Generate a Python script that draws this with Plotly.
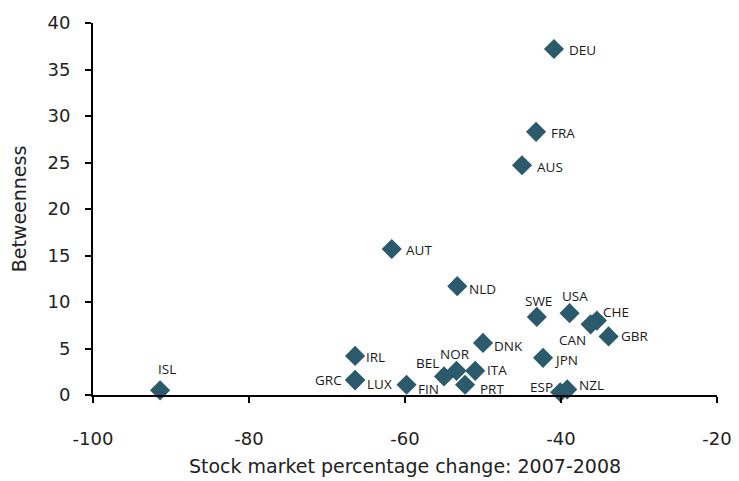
import plotly.graph_objects as go

countries = ["DEU", "FRA", "AUS", "AUT", "NLD", "SWE", "USA", "CHE", "CAN", "GBR",
             "DNK", "JPN", "IRL", "GRC", "LUX", "FIN", "BEL", "NOR", "ITA", "PRT",
             "ESP", "NZL", "ISL"]
stock_change = [-40.9, -43.2, -45.0, -61.7, -53.3, -43.1, -38.9, -35.4, -36.2, -33.9,
                -50.0, -42.3, -66.4, -66.4, -66.4, -59.8, -55.0, -53.4, -51.0, -52.3,
                -40.1, -39.2, -91.4]
betweenness = [37.2, 28.3, 24.7, 15.7, 11.7, 8.4, 8.8, 8.0, 7.6, 6.3,
               5.6, 4.0, 4.2, 1.6, 1.6, 1.1, 2.0, 2.6, 2.6, 1.1,
               0.3, 0.6, 0.5]
x_ticks = [-100, -80, -60, -40, -20]
x_tick_labels = ["-100", "-80", "-60", "-40", "-20"]
y_ticks = [0, 5, 10, 15, 20, 25, 30, 35, 40]

# label placement styles (anchor, pixel offsets right / down from marker)
label_anchor = ["left", "left", "left", "left", "left", "center", "center", "left", "right", "left",
                "left", "left", "left", "right", "left", "left", "right", "center", "left", "left",
                "right", "left", "center"]
label_dx = [14, 14, 14, 13, 11, 2, 5, 5, -4, 11,
            10, 10, 10, -12, 11, 10, -4, -1, 11, 14,
            -6, 11, 7]
label_dy = [1, 1, 2, 1, 3, -16, -17, -9, 16, 0,
            3, 2, 1, 0, 4, 4, -13, -17, -1, 4,
            -5, -4, -21]

fig = go.Figure(go.Scatter(
    x=stock_change, y=betweenness, mode="markers",
    marker=dict(symbol="diamond", size=15.5, color="#2a5a6b", line=dict(width=0)),
    cliponaxis=False, showlegend=False, hoverinfo="text", text=countries,
))

for name, xv, yv, anc, dx, dy in zip(countries, stock_change, betweenness,
                                      label_anchor, label_dx, label_dy):
    fig.add_annotation(x=xv, y=yv, text=name, showarrow=False, borderpad=0,
                       xanchor=anc, yanchor="middle", xshift=dx, yshift=-dy,
                       font=dict(family="Open Sans", size=13.5, color="#1a1a1a"))

axis_font = dict(family="DejaVu Sans", size=18, color="#222222")
fig.update_layout(
    width=739, height=481,
    margin=dict(l=85, r=30, t=15, b=94),
    paper_bgcolor="white", plot_bgcolor="white",
    xaxis=dict(range=[-100, -20], tickvals=x_ticks, ticktext=x_tick_labels,
               showgrid=False, zeroline=False, automargin=False,
               showline=True, linecolor="black", linewidth=2,
               ticks="outside", ticklen=6, tickwidth=1.5, tickcolor="black",
               tickfont=axis_font, ticklabelstandoff=20,
               title=dict(text="Stock market percentage change: 2007-2008",
                          font=dict(family="DejaVu Sans", size=19, color="#222222"),
                          standoff=12)),
    yaxis=dict(range=[0, 40], tickvals=y_ticks,
               showgrid=False, zeroline=False, automargin=False,
               showline=True, linecolor="black", linewidth=2,
               ticks="outside", ticklen=6, tickwidth=1.5, tickcolor="black",
               tickfont=axis_font, ticklabelstandoff=11,
               title=dict(text="Betweenness",
                          font=dict(family="DejaVu Sans", size=19, color="#222222"),
                          standoff=19)),
)

fig.write_html("out.html")
